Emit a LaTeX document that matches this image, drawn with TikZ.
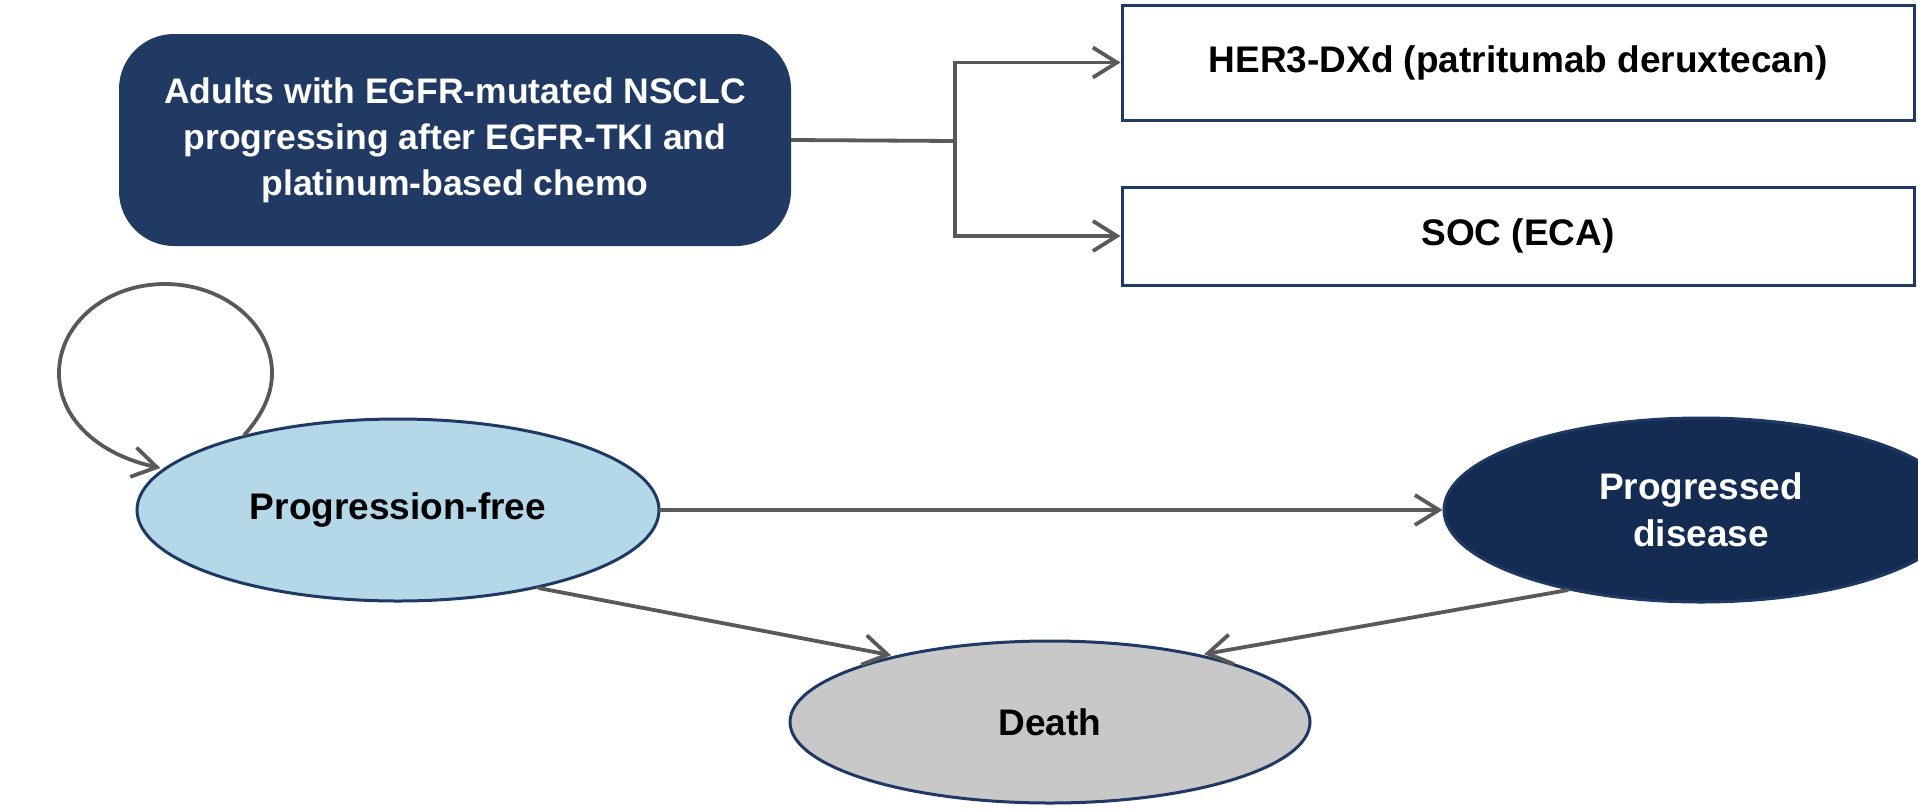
\documentclass[tikz,border=0pt]{standalone}
\usepackage{fontspec}
\setmainfont{Liberation Sans}
\usetikzlibrary{arrows.meta,shapes.geometric}
\definecolor{navybox}{RGB}{33,58,100}
\definecolor{navyline}{RGB}{31,56,100}
\definecolor{pffill}{RGB}{180,216,231}
\definecolor{pdfill}{RGB}{20,44,82}
\definecolor{deathfill}{RGB}{200,200,200}
\definecolor{conn}{RGB}{89,89,89}
\tikzset{
  topbox/.style={rectangle, rounded corners=55pt, fill=navybox, draw=none, text=white,
    minimum width=672pt, minimum height=212pt, align=center,
    font=\fontsize{35.5}{46}\selectfont\bfseries},
  armbox/.style={rectangle, draw=navyline, line width=3pt, fill=white,
    minimum width=792pt, align=center, font=\fontsize{37}{46}\selectfont\bfseries},
  state/.style={ellipse, draw=navyline, line width=3pt, align=center,
    font=\fontsize{37}{47}\selectfont\bfseries, inner sep=0pt},
  conline/.style={draw=conn, line width=3.8pt},
  conarrow/.style={draw=conn, line width=3.8pt, -{Straight Barb[length=24pt,width=30pt]}, line cap=round},
}
\begin{document}
\begin{tikzpicture}[x=1pt,y=-1pt]
\useasboundingbox (0,0) rectangle (1918,809);
\node[topbox] (pop) at (455,140) {Adults with EGFR-mutated NSCLC\\progressing after EGFR-TKI and\\platinum-based chemo};
\node[armbox, minimum height=115pt] (her3) at (1518,62.5) {HER3-DXd (patritumab deruxtecan)};
\node[armbox, minimum height=98pt] (soc) at (1518,236) {SOC (ECA)};
\node[state, fill=pffill, minimum width=522pt, minimum height=182pt] (pf) at (398,510) {Progression-free};
\node[state, fill=pdfill, text=white, minimum width=514pt, minimum height=184pt] (pd) at (1701,510) {Progressed\\disease};
\node[state, fill=deathfill, minimum width=520pt, minimum height=162pt] (death) at (1050,722) {Death};
\coordinate (br) at (955,141);
\draw[conline] (pop.east) -- (br);
\draw[conarrow] (br) |- (her3.west);
\draw[conarrow] (br) |- (soc.west);
\draw[conarrow] (pf.east) -- (pd.west);
\draw[conarrow, shorten >=3pt] (pf.-29) -- (death.157);
\draw[conarrow, shorten >=3pt] (pd.211) -- (death.24);
\draw[conarrow, shorten >=3pt] (pf.154.5) .. controls (262,415) and (272,395) .. (272,373)
  .. controls (272,324) and (224,284) .. (165,284)
  .. controls (106,284) and (59,324) .. (59,373)
  .. controls (59,420) and (100,455) .. (pf.170);
\end{tikzpicture}
\end{document}
